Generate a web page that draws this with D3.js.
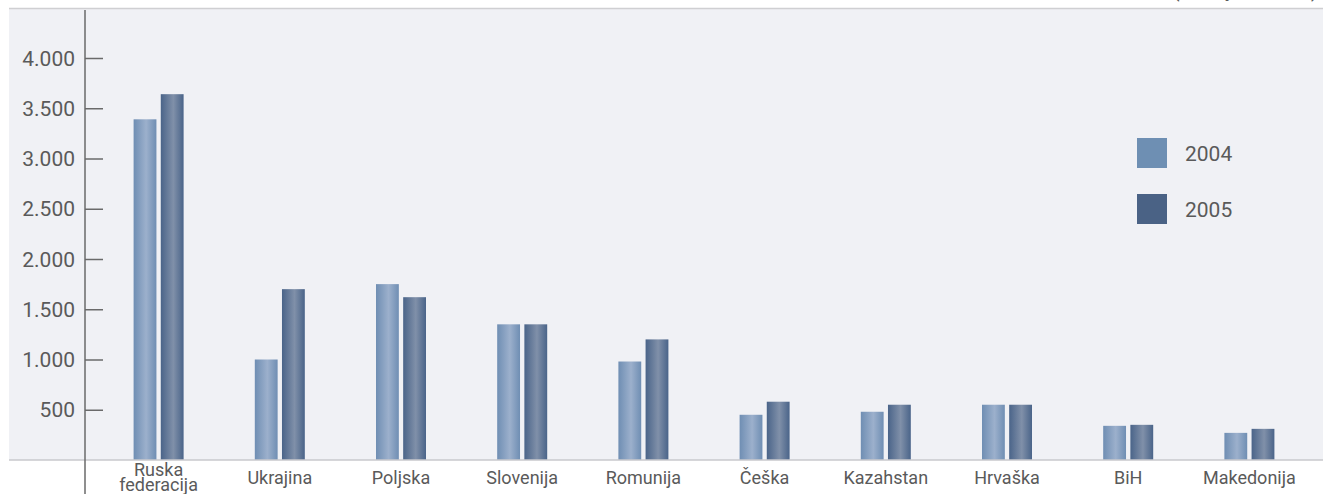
<!DOCTYPE html>
<html>
<head>
<meta charset="utf-8">
<script src="https://cdn.jsdelivr.net/npm/d3@7"></script>
<style>
  body { margin: 0; background: #fff; }
  text { font-family: "Liberation Sans Narrow", "Roboto", sans-serif; fill: #5a5a5a; }
</style>
</head>
<body>
<div class="chart"></div>
<script>
// Data
var countries = ["Ruska federacija", "Ukrajina", "Poljska", "Slovenija", "Romunija",
                 "Češka", "Kazahstan", "Hrvaška", "BiH", "Makedonija"];
var years = ["2004", "2005"];
var values2004 = [3390, 1000, 1750, 1350, 980, 450, 480, 550, 340, 270];
var values2005 = [3640, 1700, 1620, 1350, 1200, 580, 550, 550, 350, 310];
var yTicks = [500, 1000, 1500, 2000, 2500, 3000, 3500, 4000];

var width = 1323,
  height = 494,
  panelTop = 9,
  baseY = 460,
  axisX = 85;

var svg = d3.select(".chart").append("svg")
  .attr("width", width)
  .attr("height", height);

var defs = svg.append("defs");
function gradient(id, edge, mid) {
  var g = defs.append("linearGradient").attr("id", id)
    .attr("x1", "0%").attr("x2", "100%").attr("y1", "0%").attr("y2", "0%");
  g.append("stop").attr("offset", "0%").attr("stop-color", edge);
  g.append("stop").attr("offset", "55%").attr("stop-color", mid);
  g.append("stop").attr("offset", "100%").attr("stop-color", edge);
}
gradient("g2004", "#6f8eb3", "#9cb0cc");
gradient("g2005", "#4a6489", "#8090a9");

// background panel
svg.append("rect")
  .attr("x", 9).attr("y", panelTop)
  .attr("width", width - 9).attr("height", baseY - panelTop)
  .attr("fill", "#f0f1f5");
svg.append("line")
  .attr("x1", 9).attr("x2", width).attr("y1", panelTop - 0.5).attr("y2", panelTop - 0.5)
  .attr("stroke", "#cfcfd2").attr("stroke-width", 1.5);

// cut off unit label at the top
svg.append("text")
  .attr("x", 1318).attr("y", -3)
  .attr("text-anchor", "end")
  .style("font-size", "20px")
  .text("(v milijonih EUR)");

var x = d3.scaleBand()
  .domain(countries)
  .range([98, 1310]);

var x1 = d3.scaleBand()
  .domain(years)
  .range([x.bandwidth() / 2 - 25, x.bandwidth() / 2 + 25])
  .paddingInner(0.16);

var y = d3.scaleLinear()
  .domain([0, 4000])
  .range([baseY, 58]);

// y axis
var yAxis = svg.append("g")
  .attr("transform", "translate(" + axisX + ",0)")
  .call(d3.axisRight(y).tickValues(yTicks).tickSize(18).tickFormat(""));
yAxis.select(".domain").remove();
yAxis.selectAll("line").attr("stroke", "#6a6a6a").attr("stroke-width", 1.5);

svg.selectAll(".ylabel")
  .data(yTicks)
  .enter().append("text")
  .attr("class", "ylabel")
  .attr("x", 75)
  .attr("y", function(d) { return y(d); })
  .attr("dy", "0.36em")
  .attr("text-anchor", "end")
  .style("font-size", "21px")
  .text(function(d) { return d3.format(",")(d).replace(",", "."); });

// bars
var groups = svg.selectAll(".grp")
  .data(countries)
  .enter().append("g")
  .attr("class", "grp")
  .attr("transform", function(d) { return "translate(" + x(d) + ",0)"; });

groups.selectAll("rect")
  .data(function(d, i) {
    return [{ year: "2004", value: values2004[i] }, { year: "2005", value: values2005[i] }];
  })
  .enter().append("rect")
  .attr("x", function(d) { return x1(d.year); })
  .attr("width", x1.bandwidth())
  .attr("y", function(d) { return y(d.value); })
  .attr("height", function(d) { return baseY - y(d.value); })
  .attr("fill", function(d) { return "url(#g" + d.year + ")"; });

// baseline and vertical axis line
svg.append("line")
  .attr("x1", 9).attr("x2", width).attr("y1", baseY).attr("y2", baseY)
  .attr("stroke", "#c8c8cc").attr("stroke-width", 1.5);
svg.append("line")
  .attr("x1", axisX).attr("x2", axisX).attr("y1", panelTop + 1).attr("y2", height)
  .attr("stroke", "#6a6a6a").attr("stroke-width", 1.5);

// x labels
groups.append("text")
  .attr("x", x.bandwidth() / 2)
  .attr("y", function(d) { return d === "Ruska federacija" ? 476 : 484; })
  .attr("text-anchor", "middle")
  .style("font-size", "18px")
  .each(function(d) {
    var words = d.split(" ");
    var t = d3.select(this);
    words.forEach(function(w, i) {
      t.append("tspan")
        .attr("x", x.bandwidth() / 2)
        .attr("dy", i === 0 ? 0 : 15)
        .text(w);
    });
  });

// legend
var legendColors = { "2004": "#6e8fb3", "2005": "#4a6285" };
var legend = svg.selectAll(".legend")
  .data(years)
  .enter().append("g")
  .attr("class", "legend")
  .attr("transform", function(d, i) { return "translate(1137," + (138 + i * 56) + ")"; });
legend.append("rect")
  .attr("width", 30).attr("height", 30)
  .attr("fill", function(d) { return legendColors[d]; });
legend.append("text")
  .attr("x", 48).attr("y", 15)
  .attr("dy", "0.36em")
  .style("font-size", "21px")
  .text(function(d) { return d; });
</script>
</body>
</html>
